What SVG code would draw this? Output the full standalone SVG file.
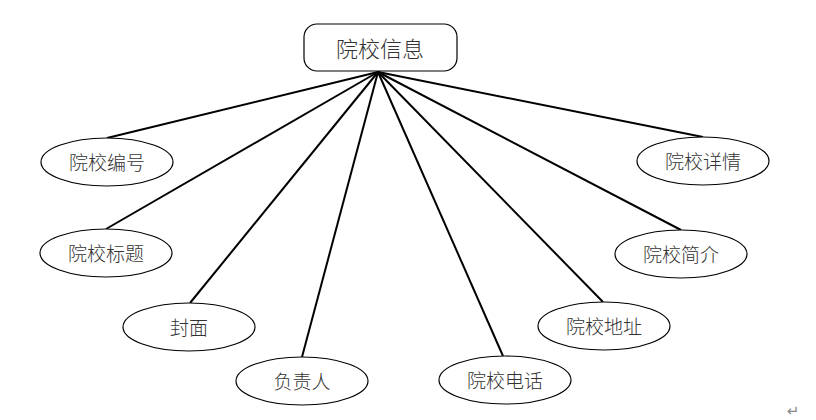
<svg xmlns="http://www.w3.org/2000/svg" width="816" height="420" viewBox="0 0 816 420">
<defs>
<style>
.shape{fill:#ffffff;stroke:#000;stroke-width:1.2}
.lbl{font-family:"Noto Sans CJK SC","Liberation Sans",sans-serif;font-size:19px;font-weight:300;fill:#333;text-anchor:middle;dominant-baseline:central}
.conn line{stroke:#000;stroke-width:2}
</style>
</defs>
<rect width="816" height="420" fill="#fff"/>
<g class="conn">
<line x1="378" y1="72" x2="107" y2="138"/>
<line x1="378" y1="72" x2="106" y2="229"/>
<line x1="378" y1="72" x2="190" y2="303"/>
<line x1="378" y1="72" x2="302" y2="357"/>
<line x1="378" y1="72" x2="503" y2="356"/>
<line x1="378" y1="72" x2="603" y2="302"/>
<line x1="378" y1="72" x2="681" y2="230"/>
<line x1="378" y1="72" x2="703" y2="137"/>
</g>
<g id="root">
<rect x="304" y="24" width="153" height="47" rx="13" class="shape"/>
<text x="380" y="47" class="lbl" style="font-size:22px">院校信息</text>
</g>
<g id="n1"><ellipse cx="107" cy="162" rx="66" ry="24" class="shape"/><text x="107" y="161" class="lbl">院校编号</text></g>
<g id="n2"><ellipse cx="106" cy="253" rx="66" ry="24" class="shape"/><text x="106" y="252" class="lbl">院校标题</text></g>
<g id="n3"><ellipse cx="189" cy="327" rx="66" ry="24" class="shape"/><text x="189" y="326" class="lbl">封面</text></g>
<g id="n4"><ellipse cx="302" cy="381" rx="66" ry="24" class="shape"/><text x="302" y="380" class="lbl">负责人</text></g>
<g id="n5"><ellipse cx="505" cy="380" rx="66" ry="24" class="shape"/><text x="505" y="379" class="lbl">院校电话</text></g>
<g id="n6"><ellipse cx="604" cy="326" rx="66" ry="24" class="shape"/><text x="604" y="325" class="lbl">院校地址</text></g>
<g id="n7"><ellipse cx="681" cy="254" rx="66" ry="24" class="shape"/><text x="681" y="253" class="lbl">院校简介</text></g>
<g id="n8"><ellipse cx="703" cy="161" rx="66" ry="24" class="shape"/><text x="703" y="160" class="lbl">院校详情</text></g>
<text x="793" y="411" style="font-family:'DejaVu Sans',sans-serif;font-size:15px;fill:#888;text-anchor:middle;dominant-baseline:central">↵</text>
</svg>
